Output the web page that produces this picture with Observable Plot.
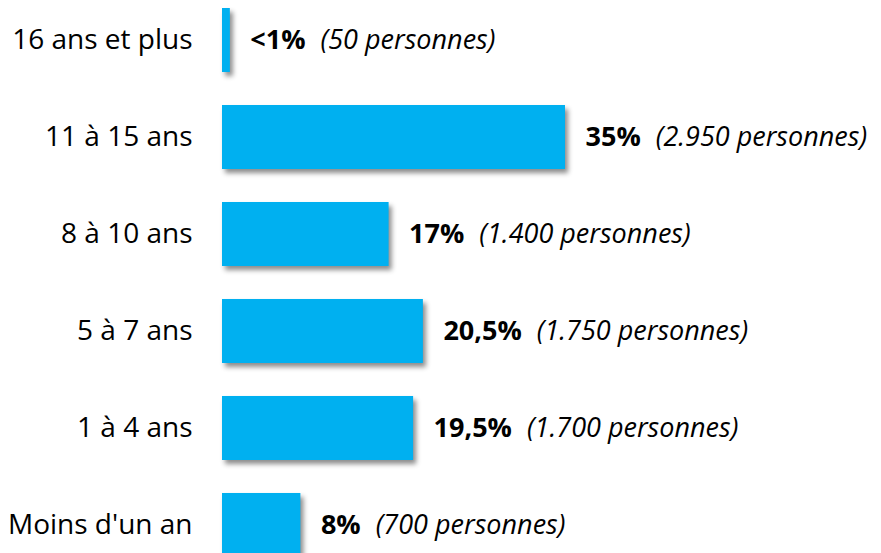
<!DOCTYPE html>
<html>
<head>
<meta charset="utf-8">
<script src="https://cdn.jsdelivr.net/npm/d3@7"></script>
<script src="https://cdn.jsdelivr.net/npm/@observablehq/plot@0.6"></script>
<style>
  html, body { margin: 0; padding: 0; background: #fff; }
  #chart svg g[aria-label="bar"] rect { filter: drop-shadow(3px 4px 2.5px rgba(0,0,0,0.45)); }
</style>
</head>
<body>
<div id="chart"></div>
<script>
const categories = ["16 ans et plus", "11 à 15 ans", "8 à 10 ans", "5 à 7 ans", "1 à 4 ans", "Moins d'un an"];
const values = [0.8, 35, 17, 20.5, 19.5, 8];
const pctLabels = ["<1%", "35%", "17%", "20,5%", "19,5%", "8%"];
const countLabels = ["(50 personnes)", "(2.950 personnes)", "(1.400 personnes)", "(1.750 personnes)", "(1.700 personnes)", "(700 personnes)"];

const data = categories.map((c, i) => ({cat: c, value: values[i], pct: pctLabels[i], note: countLabels[i]}));

const FONT = "Open Sans, Lato, sans-serif";
const W = 881, H = 553;
const xRange = [222, 565];
const pxPerUnit = (xRange[1] - xRange[0]) / 35;
const labelDx = 20, noteGap = 15, fs = 27, axisFs = 28;

const ctx = document.createElement("canvas").getContext("2d");
ctx.font = `bold ${fs}px ${FONT}`;
const boldW = s => ctx.measureText(s).width;

const chart = Plot.plot({
  width: W,
  height: H,
  marginLeft: 222, marginRight: 0, marginTop: 0, marginBottom: 0,
  style: {fontFamily: FONT, fontSize: axisFs + "px", color: "#000", background: "#fff", overflow: "visible"},
  x: {domain: [0, 35], range: xRange, axis: null},
  y: {domain: categories, range: [8, 557], paddingInner: 0.34, paddingOuter: 0, round: false, tickSize: 0, tickPadding: 30, label: null},
  marks: [
    Plot.barX(data, {x: "value", y: "cat", fill: "#00B0F0"}),
    Plot.text(data, {x: "value", y: "cat", text: "pct", textAnchor: "start", dx: labelDx, fontWeight: "bold", fontSize: fs, fill: "#000"}),
    Plot.text(data, {x: d => d.value + (labelDx + boldW(d.pct) + noteGap) / pxPerUnit, y: "cat", text: "note", textAnchor: "start", fontStyle: "italic", fontSize: fs, fill: "#000"})
  ]
});
document.getElementById("chart").appendChild(chart);
</script>
</body>
</html>
